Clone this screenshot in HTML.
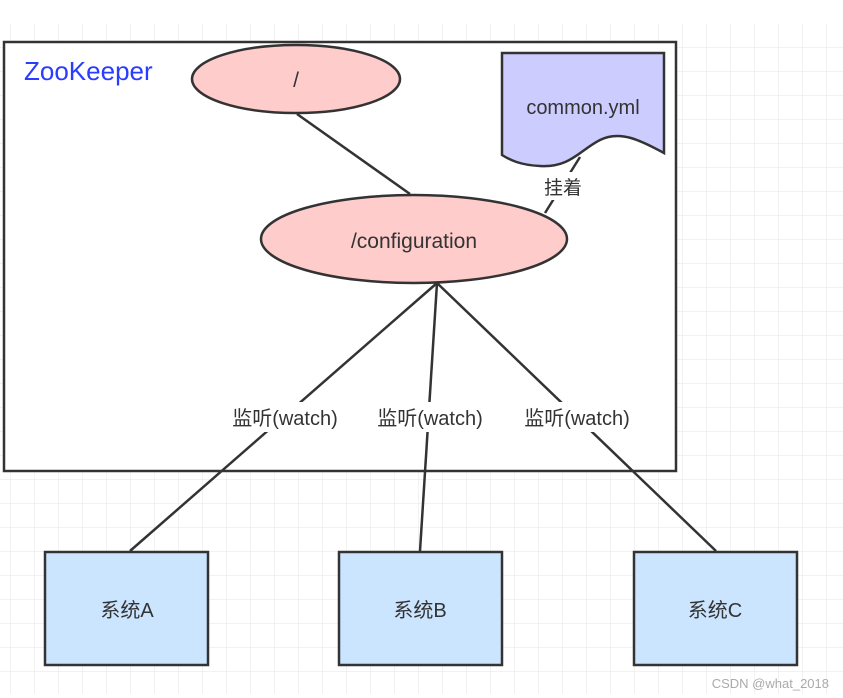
<!DOCTYPE html>
<html><head><meta charset="utf-8"><style>
body{margin:0;width:843px;height:698px;background:#fff;overflow:hidden}
svg{display:block}
text{font-family:"Liberation Sans","Noto Sans CJK SC",sans-serif;fill:#333}
</style></head><body>
<svg width="843" height="698" viewBox="0 0 843 698">
<defs>
<pattern id="g" width="24" height="24" patternUnits="userSpaceOnUse" x="11" y="24">
<path d="M24 0V24M0 24H24" stroke="#e6e6e6" stroke-width="1" fill="none"/>
</pattern>
</defs>
<rect x="0" y="24" width="843" height="670" fill="url(#g)"/>
<rect x="4" y="42" width="672" height="429" fill="#fff" stroke="#333" stroke-width="2.5"/>
<text x="24" y="80" font-size="26" style="fill:#2a3cff">ZooKeeper</text>
<g stroke="#333" stroke-width="2.5" fill="none">
<line x1="297" y1="114" x2="410" y2="194"/>
<line x1="545" y1="213" x2="580" y2="157"/>
<line x1="437" y1="283" x2="130" y2="551"/>
<line x1="437" y1="283" x2="420" y2="551"/>
<line x1="437" y1="283" x2="716" y2="551"/>
</g>
<ellipse cx="296" cy="79" rx="104" ry="34" fill="#ffcccc" stroke="#333" stroke-width="2.5"/>
<text x="296" y="87" font-size="21" text-anchor="middle">/</text>
<path d="M502 53H664V153C640 140 620 130 600 140C580 150 570 168 540 166C520 165 510 160 502 155Z" fill="#ccccff" stroke="#333" stroke-width="2.5"/>
<text x="583" y="114" font-size="20" text-anchor="middle">common.yml</text>
<rect x="538" y="172" width="50" height="28" fill="#fff"/>
<text x="563" y="194" font-size="19" text-anchor="middle">挂着</text>
<ellipse cx="414" cy="239" rx="153" ry="44" fill="#ffcccc" stroke="#333" stroke-width="2.5"/>
<text x="414" y="248" font-size="21" text-anchor="middle">/configuration</text>
<rect x="224" y="402" width="124" height="30" fill="#fff"/>
<rect x="368" y="402" width="124" height="30" fill="#fff"/>
<rect x="515" y="402" width="124" height="30" fill="#fff"/>
<text x="285" y="425" font-size="20" text-anchor="middle">监听(watch)</text>
<text x="430" y="425" font-size="20" text-anchor="middle">监听(watch)</text>
<text x="577" y="425" font-size="20" text-anchor="middle">监听(watch)</text>
<g fill="#cce5ff" stroke="#333" stroke-width="2.5">
<rect x="45" y="552" width="163" height="113"/>
<rect x="339" y="552" width="163" height="113"/>
<rect x="634" y="552" width="163" height="113"/>
</g>
<text x="127" y="617" font-size="20" text-anchor="middle">系统A</text>
<text x="420" y="617" font-size="20" text-anchor="middle">系统B</text>
<text x="715" y="617" font-size="20" text-anchor="middle">系统C</text>
<text x="829" y="688" font-size="13" text-anchor="end" style="fill:#aaa">CSDN @what_2018</text>
</svg>
</body></html>
